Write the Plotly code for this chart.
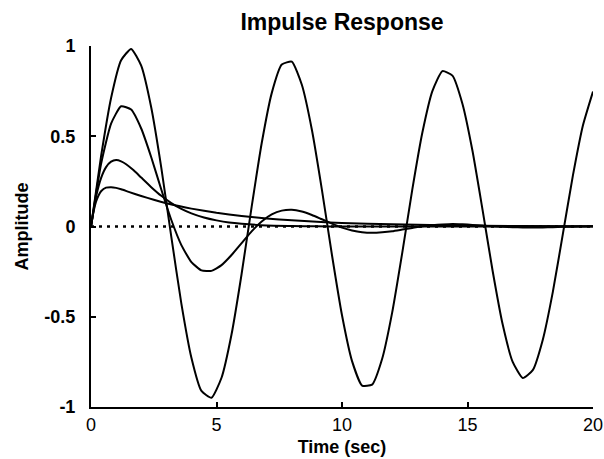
import plotly.graph_objects as go

# impulse responses of 1/(s^2 + 2*zeta*s + 1)
t_osc = [0.0, 0.4, 0.8, 1.2, 1.6, 2.0, 2.4, 2.8, 3.2, 3.6, 4.0, 4.4, 4.8, 5.2, 5.6, 6.0,
         6.4, 6.8, 7.2, 7.6, 8.0, 8.4, 8.8, 9.2, 9.6, 10.0, 10.4, 10.8, 11.2, 11.6, 12.0,
         12.4, 12.8, 13.2, 13.6, 14.0, 14.4, 14.8, 15.2, 15.6, 16.0, 16.4, 16.8, 17.2,
         17.6, 18.0, 18.4, 18.8, 19.2, 19.6, 20.0]

# zeta = 0.01 (almost undamped)
amp_z001 = [0.0, 0.388, 0.712, 0.921, 0.984, 0.891, 0.659, 0.326, -0.057, -0.427, -0.727,
            -0.911, -0.949, -0.838, -0.597, -0.263, 0.109, 0.461, 0.739, 0.897, 0.913,
            0.785, 0.536, 0.203, -0.158, -0.492, -0.746, -0.881, -0.876, -0.733, -0.476,
            -0.146, 0.204, 0.519, 0.750, 0.861, 0.836, 0.679, 0.418, 0.092, -0.245,
            -0.542, -0.750, -0.839, -0.796, -0.627, -0.362, -0.041, 0.283, 0.561, 0.748]

# zeta = 0.3
amp_z03 = [0.0, 0.346, 0.570, 0.666, 0.648, 0.543, 0.384, 0.205, 0.036, -0.103, -0.197,
           -0.243, -0.246, -0.214, -0.158, -0.092, -0.027, 0.028, 0.067, 0.088, 0.093,
           0.083, 0.064, 0.040, 0.016, -0.006, -0.022, -0.032, -0.035, -0.032, -0.026,
           -0.017, -0.008, 0.001, 0.007, 0.011, 0.014, 0.012, 0.009, 0.005, 0.001,
           -0.002, -0.004, -0.005, -0.005, -0.005, -0.004, -0.002, -0.001, 0.0, 0.001]

# zeta = 1 (critically damped)
t_crit = [0.0, 0.2, 0.4, 0.6, 0.8, 1.0, 1.2, 1.4, 1.7, 2.0, 2.4, 2.8, 3.2, 3.6, 4.0, 4.5,
          5.0, 5.5, 6.0, 7.0, 8.0, 9.0, 10.0, 12.0, 14.0, 17.0, 20.0]
amp_z1 = [0.0, 0.164, 0.268, 0.329, 0.359, 0.368, 0.361, 0.345, 0.311, 0.271, 0.218, 0.170,
          0.130, 0.098, 0.073, 0.050, 0.034, 0.022, 0.015, 0.006, 0.003, 0.001, 0.0005,
          0.0, 0.0, 0.0, 0.0]

# zeta = 2 (overdamped)
t_over = [0.0, 0.1, 0.2, 0.3, 0.4, 0.6, 0.8, 1.0, 1.2, 1.5, 2.0, 2.5, 3.0, 3.5, 4.0, 5.0,
          6.0, 7.0, 8.0, 9.0, 10.0, 12.0, 14.0, 17.0, 20.0]
amp_z2 = [0.0, 0.082, 0.137, 0.172, 0.195, 0.215, 0.218, 0.214, 0.206, 0.192, 0.169, 0.148,
          0.129, 0.113, 0.099, 0.076, 0.058, 0.044, 0.034, 0.026, 0.020, 0.012, 0.007,
          0.003, 0.001]

zero_x = [0, 20]
zero_y = [0, 0]

x_ticks = [0, 5, 10, 15, 20]
y_ticks = [-1, -0.5, 0, 0.5, 1]
y_tick_text = ['-1', '-0.5', '0', '0.5', '1']

FONT = 'Liberation Sans, Arial, Helvetica, sans-serif'

fig = go.Figure()

# dotted zero reference
fig.add_trace(go.Scatter(
    x=zero_x, y=zero_y, mode='lines',
    line=dict(color='black', width=2.5, dash='3px,5px'),
    hoverinfo='skip'
))

for tt, yy in [(t_over, amp_z2), (t_crit, amp_z1), (t_osc, amp_z03), (t_osc, amp_z001)]:
    fig.add_trace(go.Scatter(
        x=tt, y=yy, mode='lines',
        line=dict(color='black', width=2, shape='spline', smoothing=0.5),
    ))

fig.update_layout(
    width=604, height=459,
    paper_bgcolor='white', plot_bgcolor='white',
    showlegend=False,
    margin=dict(l=91, r=11, t=46, b=52, autoexpand=False),
    font=dict(family=FONT, size=17, color='black'),
    title=dict(
        text='<b>Impulse Response</b>',
        font=dict(size=23, family=FONT, color='black'),
        x=0.5, xref='paper', xanchor='center',
        y=1, yref='container', yanchor='top', pad=dict(t=14),
    ),
)

fig.update_xaxes(
    range=[0, 20], tickvals=x_ticks, automargin=False,
    ticks='inside', ticklen=5, tickwidth=2, tickcolor='black',
    showline=True, linewidth=2, linecolor='black',
    showgrid=False, zeroline=False, mirror=False,
    tickfont=dict(size=18, family=FONT),
    tickprefix='<b>', ticksuffix='</b>',
    ticklabelstandoff=0,
    title=dict(text='<b>Time (sec)</b>', font=dict(size=18), standoff=7),
)

fig.update_yaxes(
    range=[-1, 1], tickvals=y_ticks, ticktext=['<b>%s</b>' % s for s in y_tick_text],
    automargin=False,
    ticks='inside', ticklen=5, tickwidth=2, tickcolor='black',
    showline=True, linewidth=2, linecolor='black',
    showgrid=False, zeroline=False, mirror=False,
    tickfont=dict(size=18, family=FONT),
    ticklabelstandoff=10,
    title=dict(text='<b>Amplitude</b>', font=dict(size=18), standoff=11),
)

# drop the default body margin so the figure sits at the page corner
fig.write_html('out.html', config={'displayModeBar': False},
               post_script="document.body.style.margin='0';")
